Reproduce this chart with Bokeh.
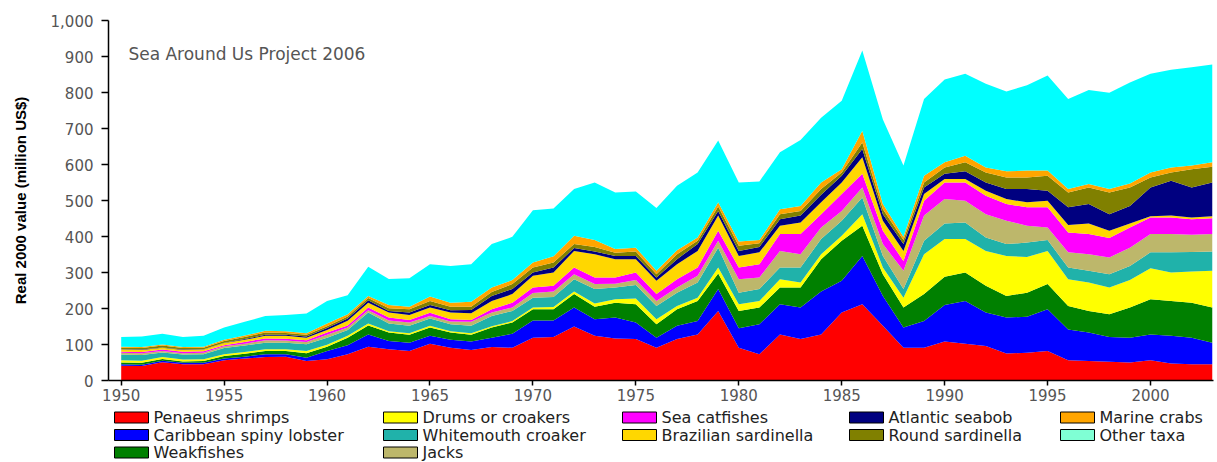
from bokeh.plotting import figure
from bokeh.models import ColumnDataSource, Range1d, FixedTicker, NumeralTickFormatter, Label
from bokeh.layouts import column
from bokeh.embed import file_html
from bokeh.resources import INLINE
from bokeh.core.properties import value

years = list(range(1950, 2004))

penaeus_shrimps = [41, 40, 51, 45, 45, 56, 61, 65, 66, 54,
                   59, 73, 94, 87, 82, 102, 91, 85, 93, 91,
                   119, 121, 150, 124, 117, 115, 91, 115, 128, 193,
                   91, 73, 128, 115, 128, 189, 212, 152, 91, 91,
                   108, 102, 96, 75, 77, 82, 56, 54, 52, 50,
                   56, 47, 45, 45]
caribbean_spiny_lobster = [4, 4, 4, 4, 4, 5, 5, 8, 7, 9,
                           23, 25, 34, 23, 23, 22, 22, 23, 26, 39,
                           48, 46, 53, 46, 58, 46, 28, 37, 37, 61,
                           54, 83, 84, 88, 119, 88, 134, 83, 56, 74,
                           102, 119, 93, 100, 100, 116, 86, 79, 69, 69,
                           72, 77, 74, 60]
weakfishes = [5, 5, 5, 4, 5, 7, 8, 9, 9, 13,
              12, 21, 25, 23, 22, 23, 20, 19, 28, 31,
              31, 31, 37, 35, 41, 51, 37, 46, 56, 43,
              48, 47, 46, 55, 90, 111, 84, 60, 56, 75,
              78, 79, 74, 60, 67, 70, 65, 60, 63, 84,
              98, 97, 97, 98]
drums_or_croakers = [6, 6, 5, 5, 5, 5, 5, 5, 5, 6,
                     5, 5, 5, 4, 4, 5, 4, 4, 4, 4,
                     5, 6, 7, 9, 10, 16, 14, 9, 9, 17,
                     19, 18, 23, 14, 14, 14, 32, 19, 27, 111,
                     105, 93, 97, 111, 99, 92, 74, 79, 74, 76,
                     86, 79, 87, 102]
whitemouth_croaker = [16, 16, 13, 14, 14, 17, 18, 18, 18, 19,
                      20, 16, 31, 21, 21, 20, 19, 21, 28, 28,
                      27, 28, 34, 40, 32, 37, 37, 37, 42, 55,
                      32, 33, 33, 42, 42, 42, 46, 32, 24, 37,
                      43, 46, 37, 33, 40, 30, 33, 33, 37, 39,
                      44, 56, 54, 53]
jacks = [5, 5, 4, 4, 4, 5, 5, 7, 6, 6,
         8, 7, 6, 9, 9, 7, 8, 11, 10, 10,
         13, 15, 14, 14, 11, 14, 14, 14, 19, 19,
         37, 32, 46, 37, 32, 27, 28, 33, 51, 70,
         68, 60, 65, 65, 47, 35, 42, 46, 47, 51,
         51, 51, 48, 49]
sea_catfishes = [3, 3, 4, 4, 4, 3, 5, 5, 5, 5,
                 6, 6, 8, 8, 7, 9, 6, 5, 9, 13,
                 15, 16, 19, 18, 17, 21, 19, 23, 23, 28,
                 33, 37, 47, 56, 37, 47, 38, 37, 27, 41,
                 46, 51, 51, 46, 51, 56, 55, 56, 54, 56,
                 46, 46, 43, 44]
brazilian_sardinella = [6, 6, 5, 5, 5, 6, 6, 7, 8, 7,
                        7, 13, 13, 14, 14, 15, 19, 19, 23, 24,
                        33, 37, 46, 65, 51, 37, 37, 42, 46, 42,
                        32, 33, 23, 32, 33, 32, 46, 28, 28, 19,
                        10, 10, 14, 14, 14, 18, 21, 29, 20, 11,
                        3, 5, 5, 5]
atlantic_seabob = [1, 1, 1, 1, 1, 1, 2, 3, 3, 3,
                   6, 6, 7, 4, 7, 7, 6, 9, 14, 14,
                   9, 14, 8, 7, 9, 9, 9, 14, 19, 13,
                   14, 15, 18, 19, 21, 19, 23, 18, 19, 18,
                   14, 21, 23, 28, 37, 28, 49, 54, 46, 49,
                   80, 97, 83, 94]
round_sardinella = [4, 4, 5, 4, 4, 5, 6, 6, 5, 5,
                    5, 6, 6, 8, 9, 11, 10, 9, 11, 14,
                    14, 14, 11, 13, 9, 12, 9, 14, 9, 12,
                    14, 10, 14, 13, 16, 9, 18, 14, 11, 14,
                    18, 25, 28, 32, 32, 42, 41, 46, 60, 51,
                    28, 23, 51, 44]
marine_crabs = [3, 3, 3, 3, 3, 3, 4, 5, 5, 4,
                7, 6, 6, 9, 7, 12, 11, 14, 12, 11,
                14, 17, 23, 19, 10, 11, 10, 11, 9, 12,
                12, 9, 14, 14, 18, 9, 33, 14, 9, 19,
                14, 18, 14, 17, 19, 14, 10, 10, 10, 11,
                14, 14, 10, 12]
other_taxa = [27, 29, 30, 28, 30, 34, 38, 41, 45, 55,
              63, 53, 81, 72, 79, 90, 102, 104, 121, 120,
              145, 133, 130, 160, 157, 156, 174, 179, 181, 172,
              164, 163, 158, 183, 180, 190, 223, 235, 198, 213,
              230, 228, 232, 222, 237, 264, 250, 261, 267, 281,
              274, 271, 273, 272]

series_names = ["Penaeus shrimps", "Caribbean spiny lobster", "Weakfishes",
                "Drums or croakers", "Whitemouth croaker", "Jacks",
                "Sea catfishes", "Brazilian sardinella", "Atlantic seabob",
                "Round sardinella", "Marine crabs", "Other taxa"]
series_values = [penaeus_shrimps, caribbean_spiny_lobster, weakfishes,
                 drums_or_croakers, whitemouth_croaker, jacks,
                 sea_catfishes, brazilian_sardinella, atlantic_seabob,
                 round_sardinella, marine_crabs, other_taxa]
colors = ["#FF0000", "#0000FF", "#008000", "#FFFF00", "#20B2AA", "#BDB76B",
          "#FF00FF", "#FFD700", "#000080", "#808000", "#FFA500", "#00FFFF"]
legend_colors = colors[:-1] + ["#7FFFD4"]

y_ticks = list(range(0, 1001, 100))
x_ticks = list(range(1950, 2001, 5))

keys = ["s%d" % i for i in range(len(series_names))]
data = {"year": years}
for k, v in zip(keys, series_values):
    data[k] = v
src = ColumnDataSource(data)

W = 1217
LEFT, RIGHT = 108, 4
p = figure(width=W, height=408,
           x_range=Range1d(1949.383, 2003.06), y_range=Range1d(0, 1000),
           output_backend="svg", toolbar_location=None,
           min_border_left=LEFT, min_border_right=RIGHT,
           min_border_top=20, min_border_bottom=28)
p.varea_stack(stackers=keys, x="year", color=colors, source=src)

p.xgrid.visible = False
p.ygrid.visible = False
p.outline_line_color = None

p.xaxis.ticker = FixedTicker(ticks=x_ticks)
p.yaxis.ticker = FixedTicker(ticks=y_ticks)
p.yaxis.formatter = NumeralTickFormatter(format="0,0")
for ax in (p.xaxis[0], p.yaxis[0]):
    ax.axis_line_color = "black"
    ax.axis_line_width = 1.5
    ax.major_tick_line_color = "black"
    ax.major_tick_line_width = 1.5
    ax.minor_tick_line_color = None
    ax.major_tick_in = 0
    ax.major_label_text_font = "DejaVu Sans"
    ax.major_label_text_font_size = "15px"
    ax.major_label_text_color = "#555555"
p.xaxis.major_tick_out = 5
p.xaxis.major_label_standoff = 3
p.yaxis.major_tick_out = 7
p.yaxis.major_label_standoff = 8
p.yaxis.axis_label = "Real 2000 value (million US$)"
p.yaxis.axis_label_text_font = "Liberation Sans"
p.yaxis.axis_label_text_font_size = "15px"
p.yaxis.axis_label_text_font_style = "bold"
p.yaxis.axis_label_text_color = "black"
p.yaxis.axis_label_standoff = 19

p.add_layout(Label(x=1950.35, y=907, text="Sea Around Us Project 2006",
                   text_font="DejaVu Sans", text_font_size="17px",
                   text_color="#555555", text_baseline="middle"))

# legend panel (x data units = page pixels, frame aligned with main plot)
LH = 462 - 408
lg = figure(width=W, height=LH, x_range=Range1d(LEFT, W - RIGHT), y_range=Range1d(LH, 0),
            output_backend="svg", toolbar_location=None,
            x_axis_location=None, y_axis_location=None,
            min_border_left=LEFT, min_border_right=RIGHT, min_border_top=0, min_border_bottom=0)
lg.grid.visible = False
lg.outline_line_color = None
col_x = [131, 131, 131, 400, 400, 400, 639, 639, 866, 866, 1077, 1077]
row_y = [9, 26.5, 44, 9, 26.5, 44, 9, 26.5, 9, 26.5, 9, 26.5]
lg.rect(x=col_x, y=row_y, width=34, height=11, width_units="screen", height_units="screen",
        fill_color=legend_colors, line_color="black", line_width=1)
lg.text(x=[x + 22 for x in col_x], y=row_y, text=series_names,
        text_font=value("DejaVu Sans"), text_font_size="16px",
        text_baseline="middle", text_align="left", text_color="#222222")

layout = column(p, lg, spacing=0)
html = file_html(layout, INLINE)
html = html.replace("</head>", "<style>html,body{overflow:hidden;}</style></head>", 1)
open("out.html", "w").write(html)
